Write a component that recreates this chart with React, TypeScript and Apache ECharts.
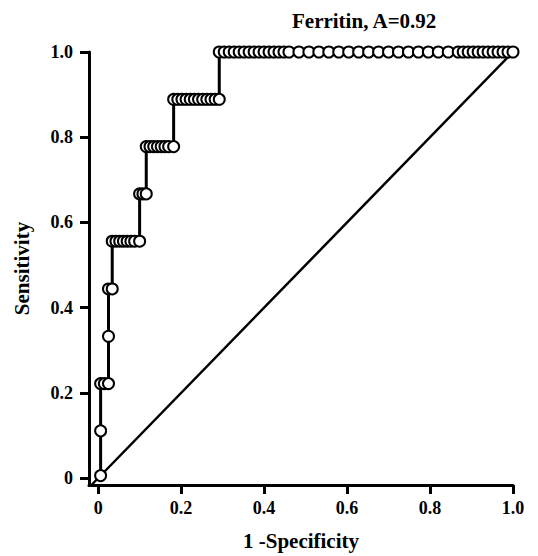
import React, { useEffect, useRef } from 'react';
import * as echarts from 'echarts';

const titleText = 'Ferritin, A=0.92';
const xName = '1 -Specificity';
const yName = 'Sensitivity';
const tickValues = [0, 0.2, 0.4, 0.6, 0.8, 1.0];

// ROC curve points (1 - specificity, sensitivity)
const fpr = [
  0.006, 0.006, 0.006, 0.015, 0.025, 0.025, 0.025, 0.034,
  0.034, 0.043, 0.052, 0.061, 0.070, 0.079, 0.088, 0.100,
  0.100, 0.108, 0.116,
  0.116, 0.125, 0.134, 0.143, 0.152, 0.161, 0.170, 0.182,
  0.182, 0.192, 0.202, 0.212, 0.222, 0.232, 0.242, 0.252, 0.262, 0.272, 0.282, 0.292,
  0.292, 0.304, 0.316, 0.328, 0.340, 0.352, 0.364, 0.376, 0.388, 0.400, 0.412, 0.424, 0.436, 0.448, 0.460,
  0.484, 0.508, 0.532, 0.556, 0.580, 0.604, 0.628, 0.652, 0.676, 0.700, 0.724, 0.748, 0.772, 0.796, 0.820, 0.844, 0.868,
  0.880, 0.892, 0.904, 0.916, 0.928, 0.940, 0.952, 0.964, 0.976, 0.988, 1.0,
];
const tpr = [
  0.006, 0.111, 0.222, 0.222, 0.222, 0.333, 0.444, 0.444,
  0.556, 0.556, 0.556, 0.556, 0.556, 0.556, 0.556, 0.556,
  0.667, 0.667, 0.667,
  0.778, 0.778, 0.778, 0.778, 0.778, 0.778, 0.778, 0.778,
  0.889, 0.889, 0.889, 0.889, 0.889, 0.889, 0.889, 0.889, 0.889, 0.889, 0.889, 0.889,
  1, 1, 1, 1, 1, 1, 1, 1, 1, 1, 1, 1, 1, 1, 1,
  1, 1, 1, 1, 1, 1, 1, 1, 1, 1, 1, 1, 1, 1, 1, 1, 1,
  1, 1, 1, 1, 1, 1, 1, 1, 1, 1, 1,
];
const diagonalX = [-0.016, 1];
const diagonalY = [-0.016, 1];

const fmt = (v: number) => (v === 0 ? '0' : v.toFixed(1));

export default function App() {
  const ref = useRef<HTMLDivElement>(null);
  useEffect(() => {
    if (!ref.current) return;
    const chart = echarts.init(ref.current, null, { renderer: 'svg' });
    const font = { fontFamily: 'Liberation Serif', fontWeight: 'bold' as const, color: '#000' };
    chart.setOption({
      animation: false,
      backgroundColor: '#fff',
      title: {
        text: titleText,
        left: 292,
        top: 10,
        padding: 0,
        textStyle: { ...font, fontSize: 21 },
      },
      grid: { left: 89, right: 25, top: 52, bottom: 68 },
      xAxis: {
        type: 'value',
        min: -0.022,
        max: 1,
        name: xName,
        nameLocation: 'middle',
        nameGap: 45,
        nameTextStyle: { ...font, fontSize: 21 },
        axisLine: { show: true, onZero: false, lineStyle: { color: '#000', width: 3 } },
        axisTick: { show: true, length: 9, customValues: tickValues, lineStyle: { color: '#000', width: 3 } },
        axisLabel: { customValues: tickValues, formatter: fmt, margin: 14, ...font, fontSize: 18 },
        splitLine: { show: false },
      },
      yAxis: {
        type: 'value',
        min: -0.016,
        max: 1,
        name: yName,
        nameLocation: 'middle',
        nameGap: 57,
        nameTextStyle: { ...font, fontSize: 21 },
        axisLine: { show: true, onZero: false, lineStyle: { color: '#000', width: 3 } },
        axisTick: { show: true, length: 9, customValues: tickValues, lineStyle: { color: '#000', width: 3 } },
        axisLabel: { customValues: tickValues, formatter: fmt, margin: 16, ...font, fontSize: 18 },
        splitLine: { show: false },
      },
      series: [
        {
          type: 'line',
          data: diagonalX.map((x, i) => [x, diagonalY[i]]),
          showSymbol: false,
          symbol: 'none',
          clip: false,
          lineStyle: { color: '#000', width: 2.5 },
          silent: true,
        },
        {
          type: 'line',
          data: fpr.map((x, i) => [x, tpr[i]]),
          symbol: 'circle',
          symbolSize: 11,
          showAllSymbol: true,
          clip: false,
          lineStyle: { color: '#000', width: 3 },
          itemStyle: { color: '#fff', borderColor: '#000', borderWidth: 2 },
        },
      ],
    });
    return () => chart.dispose();
  }, []);
  return (
    <div
      ref={ref}
      style={{ position: 'fixed', left: 0, top: 0, width: 538, height: 556, background: '#fff' }}
    />
  );
}
